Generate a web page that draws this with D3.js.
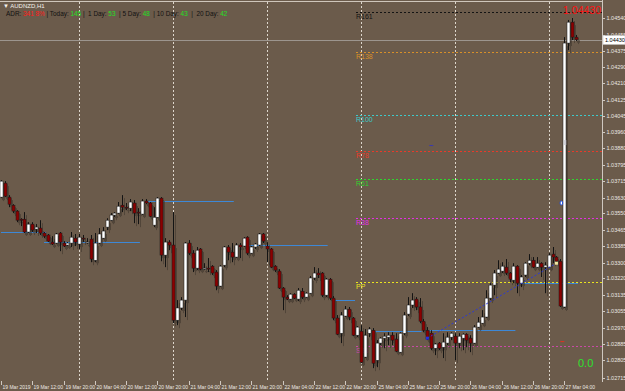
<!DOCTYPE html>
<html>
<head>
<meta charset="utf-8">
<script src="https://cdn.jsdelivr.net/npm/d3@7/dist/d3.min.js"></script>
<style>
html, body { margin: 0; padding: 0; background: #6b5b4b; }
svg { display: block; font-family: "Liberation Sans", Arial, sans-serif; }
</style>
</head>
<body>
<div id="container"></div>
<script>
var width = 625, height = 391;
var plotRight = 602, plotTop = 2, plotBottom = 381;

// AUDNZD H1, 19 Mar 04:00 -> 27 Mar 07:00 (148 bars)
var openP = [1.03632,1.03703,1.03632,1.03591,1.03561,1.03520,1.03520,1.03455,1.03495,1.03470,
  1.03475,1.03450,1.03440,1.03404,1.03399,1.03450,1.03399,1.03389,1.03399,1.03424,
  1.03394,1.03424,1.03399,1.03419,1.03312,1.03399,1.03424,1.03480,1.03515,1.03541,
  1.03551,1.03591,1.03581,1.03576,1.03602,1.03556,1.03546,1.03612,1.03602,1.03490,
  1.03530,1.03627,1.03338,1.03404,1.03389,1.03008,1.03070,1.03110,1.03399,1.03348,
  1.03272,1.03369,1.03267,1.03272,1.03282,1.03252,1.03181,1.03287,1.03379,1.03353,
  1.03328,1.03389,1.03384,1.03429,1.03348,1.03379,1.03389,1.03445,1.03384,1.03369,
  1.03282,1.03257,1.03171,1.03125,1.03115,1.03140,1.03115,1.03155,1.03125,1.03145,
  1.03222,1.03247,1.03247,1.03135,1.03216,1.03120,1.03019,1.02942,1.03029,1.03064,
  1.03019,1.02932,1.02952,1.02821,1.02942,1.02957,1.02805,1.02892,1.02917,1.02922,
  1.02932,1.02912,1.02846,1.02942,1.03039,1.03085,1.03115,1.03075,1.03003,1.02957,
  1.02942,1.02866,1.02892,1.02871,1.02892,1.02922,1.02927,1.02892,1.02917,1.02937,
  1.02917,1.02892,1.02973,1.02993,1.03024,1.03120,1.03186,1.03247,1.03257,1.03277,
  1.03247,1.03211,1.03282,1.03196,1.03237,1.03297,1.03312,1.03277,1.03297,1.03277,
  1.03277,1.03343,1.03328,1.03307,1.03075,1.04413,1.04519,1.04443];
var highP = [1.03718,1.03713,1.03642,1.03596,1.03566,1.03525,1.03556,1.03505,1.03505,1.03495,
  1.03515,1.03455,1.03445,1.03434,1.03450,1.03455,1.03409,1.03404,1.03455,1.03445,
  1.03445,1.03440,1.03424,1.03440,1.03450,1.03475,1.03480,1.03525,1.03551,1.03556,
  1.03607,1.03642,1.03602,1.03622,1.03617,1.03576,1.03622,1.03622,1.03607,1.03581,
  1.03632,1.03632,1.03424,1.03414,1.03556,1.03110,1.03125,1.03404,1.03414,1.03363,
  1.03379,1.03374,1.03297,1.03323,1.03287,1.03262,1.03287,1.03384,1.03389,1.03399,
  1.03399,1.03399,1.03429,1.03434,1.03384,1.03399,1.03450,1.03450,1.03404,1.03374,
  1.03287,1.03267,1.03176,1.03135,1.03145,1.03145,1.03171,1.03171,1.03150,1.03232,
  1.03277,1.03272,1.03252,1.03222,1.03222,1.03130,1.03034,1.03049,1.03080,1.03075,
  1.03024,1.02978,1.02983,1.02963,1.02973,1.02968,1.02907,1.02922,1.02942,1.02947,
  1.02947,1.02942,1.02947,1.03049,1.03125,1.03145,1.03125,1.03120,1.03014,1.02973,
  1.02957,1.02892,1.02897,1.02942,1.02947,1.02947,1.02942,1.02942,1.02942,1.02942,
  1.02932,1.02983,1.03024,1.03059,1.03160,1.03196,1.03262,1.03312,1.03302,1.03318,
  1.03252,1.03297,1.03287,1.03237,1.03302,1.03343,1.03328,1.03328,1.03302,1.03302,
  1.03348,1.03379,1.03333,1.03318,1.04443,1.04530,1.04540,1.04454];
var lowP = [1.03627,1.03632,1.03581,1.03551,1.03505,1.03485,1.03450,1.03450,1.03455,1.03450,
  1.03440,1.03424,1.03404,1.03389,1.03394,1.03358,1.03379,1.03384,1.03379,1.03384,
  1.03369,1.03404,1.03394,1.03302,1.03302,1.03394,1.03419,1.03465,1.03510,1.03530,
  1.03546,1.03556,1.03566,1.03561,1.03500,1.03495,1.03541,1.03596,1.03530,1.03480,
  1.03525,1.03307,1.03277,1.03363,1.02993,1.02983,1.03059,1.03024,1.03338,1.03252,
  1.03262,1.03262,1.03262,1.03252,1.03237,1.03160,1.03176,1.03277,1.03312,1.03302,
  1.03323,1.03323,1.03379,1.03338,1.03343,1.03369,1.03384,1.03399,1.03302,1.03272,
  1.03252,1.03166,1.03059,1.03110,1.03110,1.03115,1.03105,1.03115,1.03120,1.03140,
  1.03211,1.03222,1.03125,1.03125,1.03110,1.03008,1.02932,1.02892,1.03024,1.03008,
  1.02927,1.02922,1.02790,1.02816,1.02922,1.02765,1.02770,1.02882,1.02866,1.02882,
  1.02882,1.02846,1.02841,1.02932,1.03029,1.03070,1.03059,1.02993,1.02947,1.02907,
  1.02856,1.02831,1.02856,1.02816,1.02882,1.02907,1.02805,1.02866,1.02856,1.02871,
  1.02846,1.02887,1.02968,1.02988,1.03019,1.03110,1.03135,1.03242,1.03247,1.03237,
  1.03201,1.03196,1.03145,1.03176,1.03227,1.03287,1.03272,1.03272,1.03227,1.03145,
  1.03272,1.03297,1.03297,1.03075,1.03070,1.04377,1.04428,1.04423];
var closeP = [1.03713,1.03637,1.03596,1.03561,1.03515,1.03515,1.03455,1.03495,1.03465,1.03480,
  1.03450,1.03434,1.03409,1.03394,1.03445,1.03404,1.03384,1.03399,1.03429,1.03404,
  1.03429,1.03419,1.03404,1.03318,1.03399,1.03445,1.03460,1.03515,1.03541,1.03551,
  1.03586,1.03581,1.03576,1.03607,1.03551,1.03551,1.03612,1.03602,1.03535,1.03530,
  1.03627,1.03338,1.03404,1.03389,1.03008,1.03070,1.03110,1.03399,1.03348,1.03272,
  1.03363,1.03267,1.03272,1.03267,1.03247,1.03181,1.03282,1.03379,1.03353,1.03328,
  1.03389,1.03379,1.03424,1.03348,1.03379,1.03394,1.03445,1.03409,1.03369,1.03277,
  1.03262,1.03171,1.03125,1.03115,1.03140,1.03120,1.03160,1.03125,1.03145,1.03222,
  1.03247,1.03237,1.03135,1.03216,1.03120,1.03019,1.02937,1.03034,1.03064,1.03024,
  1.02932,1.02973,1.02795,1.02932,1.02963,1.02790,1.02892,1.02917,1.02927,1.02932,
  1.02907,1.02851,1.02942,1.03034,1.03085,1.03110,1.03075,1.03003,1.02957,1.02912,
  1.02866,1.02887,1.02866,1.02897,1.02922,1.02942,1.02892,1.02927,1.02937,1.02907,
  1.02892,1.02973,1.02998,1.03024,1.03120,1.03186,1.03247,1.03267,1.03282,1.03247,
  1.03216,1.03282,1.03196,1.03227,1.03297,1.03312,1.03277,1.03297,1.03277,1.03287,
  1.03338,1.03328,1.03307,1.03080,1.04413,1.04519,1.04443,1.04430];

var lastPrice = 1.04430;

var priceTicks = [1.04540,1.04455,1.04375,1.04290,1.04210,1.04125,1.04045,1.03960,1.03880,
  1.03795,1.03715,1.03630,1.03550,1.03465,1.03385,1.03300,1.03220,1.03135,1.03055,
  1.02970,1.02885,1.02805,1.02715];

var timeLabels = ["19 Mar 2019","19 Mar 12:00","19 Mar 20:00","20 Mar 04:00","20 Mar 12:00",
  "20 Mar 20:00","21 Mar 04:00","21 Mar 12:00","21 Mar 20:00","22 Mar 04:00","22 Mar 12:00",
  "22 Mar 20:00","25 Mar 04:00","25 Mar 12:00","25 Mar 20:00","26 Mar 04:00","26 Mar 12:00",
  "26 Mar 20:00","27 Mar 04:00"];
var timeLabelBars = [0,8,16,24,32,40,48,56,64,72,80,88,96,104,112,120,128,136,144];

// day separators (00:00 bars)
var daySepBars = [20,44,68,92,116,140];

// fibonacci pivot levels
var pivotNames = ["R161","R138","R100","R78","R61","R38","PP","S38"];
var pivotValues = [1.04570,1.04367,1.04048,1.03865,1.03724,1.03525,1.03201,1.02876];
var pivotColors = ["#141414","#d89028","#3ccaca","#e83a2a","#2ed42e","#e42ee4","#eae41e","#c84aa6"];
var pivotStartBar = 91;

// session range lines
var segStart = [0,11,37,62,85,95,109,133];
var segEnd   = [11,35,59,83,90,107,131,147];
var segPrice = [1.03455,1.03404,1.03612,1.03389,1.03110,1.02952,1.02957,1.03196];

// trend line and markers
var trendBars = [109,142];
var trendPrices = [1.02917,1.03297];

var headerParts = [
  {t:"ADR: ", c:"#111"}, {t:"341 8%", c:"#ff1a1a"}, {t:" | Today: ", c:"#111"}, {t:"145", c:"#22e022"},
  {t:" |  1 Day: ", c:"#111"}, {t:"53", c:"#22e022"}, {t:"  | 5 Day: ", c:"#111"}, {t:"48", c:"#22e022"},
  {t:"  | 10 Day: ", c:"#111"}, {t:"43", c:"#22e022"}, {t:"  |  20 Day: ", c:"#111"}, {t:"42", c:"#22e022"}
];

var svg = d3.select("#container").append("svg")
  .attr("width", width)
  .attr("height", height);

svg.append("rect").attr("width", width).attr("height", height).attr("fill", "#6b5b4b");

var x = d3.scaleLinear().domain([0, 147]).range([1, 576]);
var y = d3.scaleLinear().domain([1.02715, 1.04540]).range([378, 18]);

var bars = openP.map(function(o, i){
  return {i: i, o: o, h: highP[i], l: lowP[i], c: closeP[i]};
});

// frame
svg.append("line").attr("x1", 0).attr("x2", plotRight).attr("y1", 1.5).attr("y2", 1.5)
  .attr("stroke", "#cfc6bb").attr("stroke-width", 1);

// day separators
svg.selectAll(".daysep").data(daySepBars).enter().append("line")
  .attr("class", "daysep")
  .attr("x1", d => Math.round(x(d)) + 0.5).attr("x2", d => Math.round(x(d)) + 0.5)
  .attr("y1", plotTop).attr("y2", plotBottom)
  .attr("stroke", "#ddd6cc").attr("stroke-width", 1).attr("stroke-dasharray", "2,2")
  .attr("shape-rendering", "crispEdges");

// bid line
svg.append("line").attr("x1", 0).attr("x2", plotRight)
  .attr("y1", Math.round(y(lastPrice)) + 0.5).attr("y2", Math.round(y(lastPrice)) + 0.5)
  .attr("stroke", "#9c958e").attr("stroke-width", 1);

// pivot lines
var pivots = pivotNames.map(function(n, k){ return {n: n, v: pivotValues[k], col: pivotColors[k]}; });
var px0 = Math.round(x(pivotStartBar)) - 1;
svg.selectAll(".pivot").data(pivots).enter().append("line")
  .attr("class", "pivot")
  .attr("x1", px0).attr("x2", plotRight)
  .attr("y1", d => Math.round(y(d.v)) + 0.5).attr("y2", d => Math.round(y(d.v)) + 0.5)
  .attr("stroke", d => d.col).attr("stroke-width", 1).attr("stroke-dasharray", "2,2")
  .attr("shape-rendering", "crispEdges");
svg.selectAll(".pivotLabel").data(pivots).enter().append("text")
  .attr("class", "pivotLabel")
  .attr("x", px0).attr("y", d => Math.round(y(d.v)) + 7)
  .attr("font-size", "7px").attr("fill", d => d.col)
  .text(d => d.n);

// session lines
var segs = segStart.map(function(s, k){ return {s: s, e: segEnd[k], p: segPrice[k]}; });
svg.selectAll(".seg").data(segs).enter().append("line")
  .attr("class", "seg")
  .attr("x1", d => x(d.s)).attr("x2", d => x(d.e) + 2)
  .attr("y1", d => Math.round(y(d.p)) + 0.5).attr("y2", d => Math.round(y(d.p)) + 0.5)
  .attr("stroke", "#3d88d6").attr("stroke-width", 1);

// candles
function drawCandles(g, shadow){
  g.selectAll("line.wick").data(bars).enter().append("line")
    .attr("class", "wick")
    .attr("x1", d => Math.round(x(d.i)) + 0.5).attr("x2", d => Math.round(x(d.i)) + 0.5)
    .attr("y1", d => y(d.h)).attr("y2", d => y(d.l))
    .attr("stroke", shadow ? "#3d342c" : "#141414").attr("stroke-width", 1);
  g.selectAll("rect.body").data(bars).enter().append("rect")
    .attr("class", "body")
    .attr("x", d => Math.round(x(d.i)) - 1)
    .attr("width", 3)
    .attr("y", d => y(Math.max(d.o, d.c)))
    .attr("height", d => Math.max(1, Math.abs(y(d.o) - y(d.c))))
    .attr("fill", d => shadow ? "#3d342c" : (d.c >= d.o ? "#ffffff" : "#8c0000"))
    .attr("stroke", shadow ? "none" : "#1a1a1a").attr("stroke-width", 0.5);
}
var shadowG = svg.append("g").attr("transform", "translate(2,3)").attr("opacity", 0.55);
drawCandles(shadowG, true);
var candleG = svg.append("g");
drawCandles(candleG, false);

// trend line
svg.append("line")
  .attr("x1", x(trendBars[0])).attr("y1", y(trendPrices[0]))
  .attr("x2", x(trendBars[1])).attr("y2", y(trendPrices[1]))
  .attr("stroke", "#2a38d8").attr("stroke-width", 1).attr("stroke-dasharray", "2,2");
svg.append("rect").attr("x", x(trendBars[0]) - 1.5).attr("y", y(trendPrices[0]) - 1.5)
  .attr("width", 3).attr("height", 3).attr("fill", "#2030e0");
svg.append("rect").attr("x", x(trendBars[1]) - 1.5).attr("y", y(trendPrices[1]) - 1.5)
  .attr("width", 3).attr("height", 3).attr("fill", "#f2e6a0");

// small markers
svg.append("rect").attr("x", x(110) - 2).attr("y", y(1.03896)).attr("width", 4).attr("height", 1).attr("fill", "#3a3ab0");
svg.append("rect").attr("x", x(144)).attr("y", y(1.03911) - 2).attr("width", 2).attr("height", 5).attr("fill", "#c8c8d0");
svg.append("ellipse").attr("cx", x(143) + 1).attr("cy", y(1.03602)).attr("rx", 1.3).attr("ry", 2)
  .attr("fill", "#ffffff").attr("stroke", "#2050e0").attr("stroke-width", 1);
svg.append("rect").attr("x", x(143)).attr("y", y(1.02902)).attr("width", 4).attr("height", 1).attr("fill", "#e03020");

// price axis
svg.append("line").attr("x1", plotRight + 0.5).attr("x2", plotRight + 0.5).attr("y1", 0).attr("y2", plotBottom + 1)
  .attr("stroke", "#cfc8c0").attr("stroke-width", 1);
var pt = svg.selectAll(".ptick").data(priceTicks).enter().append("g").attr("class", "ptick")
  .attr("transform", d => "translate(0," + (Math.round(y(d)) + 0.5) + ")");
pt.append("line").attr("x1", plotRight).attr("x2", plotRight + 3).attr("stroke", "#cfc8c0");
pt.append("text").attr("x", plotRight + 4.5).attr("dy", "0.35em")
  .attr("font-size", "5.5px").attr("fill", "#ece8e2")
  .text(d => d3.format(".5f")(d));

// current price box
var ly = Math.round(y(lastPrice));
svg.append("rect").attr("x", plotRight + 1).attr("y", ly - 4.5).attr("width", 22).attr("height", 9)
  .attr("fill", "#ffffff").attr("stroke", "#c0c0c0").attr("stroke-width", 0.5);
svg.append("text").attr("x", plotRight + 3).attr("y", ly).attr("dy", "0.35em")
  .attr("font-size", "5.5px").attr("fill", "#000").text(d3.format(".5f")(lastPrice));

// time axis
var tl = timeLabels.map(function(t, k){ return {t: t, b: timeLabelBars[k]}; });
var tg = svg.selectAll(".ttick").data(tl).enter().append("g").attr("class", "ttick")
  .attr("transform", d => "translate(" + (Math.round(x(d.b)) + 0.5) + ",0)");
tg.append("line").attr("y1", plotBottom).attr("y2", plotBottom + 4).attr("stroke", "#cfc8c0");
tg.append("text").attr("x", 1).attr("y", 388.5).attr("font-size", "5px").attr("fill", "#ece8e2")
  .text(d => d.t);

// header
svg.append("text").attr("x", 3).attr("y", 8).attr("font-size", "6px").attr("fill", "#f4f0ea")
  .text("\u25BC AUDNZD,H1");
var ht = svg.append("text").attr("x", 6).attr("y", 16).attr("font-size", "6.4px")
  .attr("xml:space", "preserve").style("white-space", "pre");
ht.selectAll("tspan").data(headerParts).enter().append("tspan")
  .attr("fill", d => d.c).text(d => d.t);

// big price + spread
svg.append("text").attr("x", 601).attr("y", 14).attr("text-anchor", "end")
  .attr("font-size", "10.5px").attr("fill", "#ff1010").text(d3.format(".5f")(lastPrice));
svg.append("text").attr("x", 578).attr("y", 367).attr("font-size", "11px")
  .attr("fill", "#2ee02e").text("0.0");
</script>
</body>
</html>
